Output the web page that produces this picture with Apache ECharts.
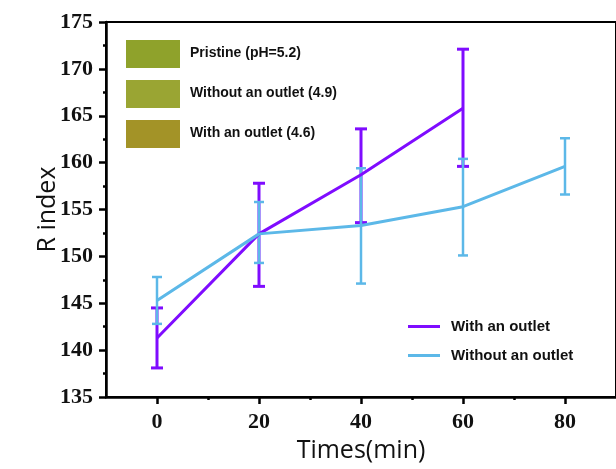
<!DOCTYPE html>
<html>
<head>
<meta charset="utf-8">
<script src="https://cdn.jsdelivr.net/npm/echarts@6/dist/echarts.min.js"></script>
<style>
  html, body { margin: 0; padding: 0; background: #fff; }
  #chart { width: 616px; height: 469px; }
</style>
</head>
<body>
<div id="chart"></div>
<script>
// x values (min)
var times = [0, 20, 40, 60, 80];
// With an outlet
var withMean = [141.3, 152.4, 158.7, 165.8];
var withLow  = [138.1, 146.8, 153.6, 159.6];
var withHigh = [144.5, 157.8, 163.6, 172.1];
// Without an outlet
var withoutMean = [145.3, 152.4, 153.3, 155.3, 159.6];
var withoutLow  = [142.8, 149.3, 147.1, 150.1, 156.6];
var withoutHigh = [147.8, 155.8, 159.4, 160.4, 162.6];
// picture legend (colour swatches)
var swatchLabels = ['Pristine (pH=5.2)', 'Without an outlet (4.9)', 'With an outlet (4.6)'];
var swatchColors = ['#8fa22b', '#9aa533', '#a39327'];
var xTicks = [0, 20, 40, 60, 80];
var xMinorTicks = [10, 30, 50, 70];

var purple = '#7f0cff';
var blue = '#5cb8e8';

function pairs(xs, ys) {
  return ys.map(function (y, i) { return [xs[i], y]; });
}
function errRows(xs, lo, hi) {
  return lo.map(function (l, i) { return [xs[i], l, hi[i]]; });
}
function errRender(color, cap, width) {
  return function (params, api) {
    var x = api.value(0);
    var lo = api.coord([x, api.value(1)]);
    var hi = api.coord([x, api.value(2)]);
    var st = { stroke: color, lineWidth: width };
    return {
      type: 'group',
      children: [
        { type: 'line', shape: { x1: lo[0], y1: lo[1], x2: hi[0], y2: hi[1] }, style: st },
        { type: 'line', shape: { x1: lo[0] - cap, y1: lo[1], x2: lo[0] + cap, y2: lo[1] }, style: st },
        { type: 'line', shape: { x1: hi[0] - cap, y1: hi[1], x2: hi[0] + cap, y2: hi[1] }, style: st }
      ]
    };
  };
}

var graphics = [];
swatchLabels.forEach(function (t, i) {
  graphics.push({
    type: 'rect', left: 126, top: 40 + i * 40,
    shape: { width: 54, height: 28 }, style: { fill: swatchColors[i] }
  });
  graphics.push({
    type: 'text', left: 190, top: 46 + i * 40,
    style: { text: t, font: 'bold 14px "Liberation Sans", Arial', fill: '#111' }
  });
});

var myChart = echarts.init(document.getElementById('chart'));
var option = {
  animation: false,
  grid: {
    left: 106, top: 22, width: 514, height: 375,
    show: true, borderColor: '#000', borderWidth: 2
  },
  legend: {
    orient: 'vertical',
    left: 403, top: 314,
    itemWidth: 32, itemHeight: 3, itemGap: 14,
    icon: 'rect',
    textStyle: { fontFamily: '"Liberation Sans", Arial', fontWeight: 'bold', fontSize: 15, color: '#111', padding: [0, 0, 0, 6] },
    data: ['With an outlet', 'Without an outlet']
  },
  graphic: graphics,
  xAxis: [{
    type: 'value', min: -10, max: 90,
    name: 'Times(min)', nameLocation: 'middle', nameGap: 41, nameMoveOverlap: false,
    nameTextStyle: { fontFamily: '"Open Sans"', fontSize: 25, color: '#111' },
    axisLine: { lineStyle: { color: '#000', width: 2.5 } },
    axisTick: { customValues: xTicks, length: 7, lineStyle: { width: 2.5 } },
    axisLabel: {
      customValues: xTicks, margin: 14,
      fontFamily: '"Liberation Serif", "Times New Roman"', fontWeight: 'bold', fontSize: 22, color: '#111'
    },
    splitLine: { show: false }
  }, {
    type: 'value', min: -10, max: 90, position: 'bottom',
    axisLine: { show: false },
    axisTick: { customValues: xMinorTicks, length: 3, lineStyle: { width: 2.5, color: '#000' } },
    axisLabel: { show: false },
    splitLine: { show: false }
  }],
  yAxis: {
    type: 'value', min: 135, max: 175, interval: 5,
    name: 'R index', nameLocation: 'middle', nameGap: 46, nameMoveOverlap: false,
    nameTextStyle: { fontFamily: '"Open Sans"', fontSize: 25, color: '#111' },
    axisLine: { show: true, onZero: false, lineStyle: { color: '#000', width: 2.5 } },
    axisTick: { show: true, length: 7, lineStyle: { width: 2.5 } },
    minorTick: { show: true, splitNumber: 2, length: 3, lineStyle: { width: 2.5, color: '#000' } },
    axisLabel: {
      margin: 13,
      fontFamily: '"Liberation Serif", "Times New Roman"', fontWeight: 'bold', fontSize: 22, color: '#111'
    },
    splitLine: { show: false }
  },
  series: [
    {
      name: 'With an outlet', type: 'line', symbol: 'none',
      color: purple, lineStyle: { width: 3 },
      data: pairs(times, withMean)
    },
    {
      name: 'With an outlet', type: 'custom',
      renderItem: errRender(purple, 6, 3),
      encode: { x: 0, y: [1, 2] },
      data: errRows(times, withLow, withHigh)
    },
    {
      name: 'Without an outlet', type: 'line', symbol: 'none',
      color: blue, lineStyle: { width: 3 },
      data: pairs(times, withoutMean)
    },
    {
      name: 'Without an outlet', type: 'custom',
      renderItem: errRender(blue, 5, 2.5),
      encode: { x: 0, y: [1, 2] },
      data: errRows(times, withoutLow, withoutHigh)
    }
  ]
};
myChart.setOption(option);
window.addEventListener('resize', function () {
  myChart.resize();
});
</script>
</body>
</html>
